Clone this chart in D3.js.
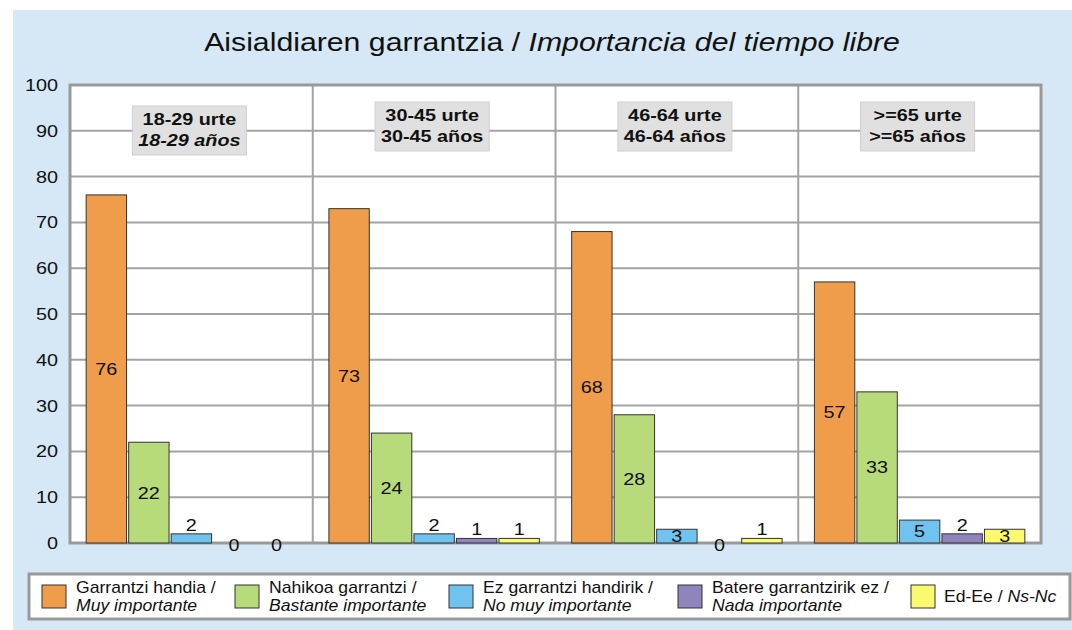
<!DOCTYPE html>
<html>
<head>
<meta charset="utf-8">
<script src="https://cdn.jsdelivr.net/npm/d3@7"></script>
<style>
  body { margin: 0; background: #fff; }
  svg { font-family: "Liberation Sans", Arial, sans-serif; }
</style>
</head>
<body>
<svg width="1072" height="630"></svg>
<script>
// age groups (two lines each: basque / spanish)
var groupsEu = ["18-29 urte", "30-45 urte", "46-64 urte", ">=65 urte"];
var groupsEs = ["18-29 años", "30-45 años", "46-64 años", ">=65 años"];

// answer categories
var seriesEu = ["Garrantzi handia /", "Nahikoa garrantzi /", "Ez garrantzi handirik /", "Batere garrantzirik ez /", "Ed-Ee / "];
var seriesEs = ["Muy importante", "Bastante importante", "No muy importante", "Nada importante", "Ns-Nc"];
var seriesColors = ["#ef9d4a", "#b7da7b", "#70c2ef", "#8f84bc", "#fbfa6e"];

// values per group, in series order
var values = [
  [76, 22, 2, 0, 0],
  [73, 24, 2, 1, 1],
  [68, 28, 3, 0, 1],
  [57, 33, 5, 2, 3]
];

var yTicks = [0, 10, 20, 30, 40, 50, 60, 70, 80, 90, 100];

//the original text is drawn a bit wider than the font, so stretch it
var textStretch = 1.2,
  legendStretch = 1.1;

function place(x, y, sx) {
  return "translate(" + x + "," + y + ") scale(" + sx + ",1)";
}

var svg = d3.select("svg");

//light blue panel
svg.append("rect")
  .attr("x", 13).attr("y", 10)
  .attr("width", 1059).attr("height", 620)
  .attr("fill", "#d6e8f5");

var plot = { left: 70, right: 1041, top: 85, bottom: 543 };

var x0 = d3.scaleBand()
  .domain(d3.range(groupsEu.length))
  .range([plot.left, plot.right]);

var x1 = d3.scaleBand()
  .domain(d3.range(seriesEu.length))
  .range([0, x0.bandwidth()])
  .paddingInner(0.05)
  .paddingOuter(0.38);

var y = d3.scaleLinear()
  .domain([0, 100])
  .range([plot.bottom, plot.top]);

//plot background
svg.append("rect")
  .attr("x", plot.left).attr("y", plot.top)
  .attr("width", plot.right - plot.left).attr("height", plot.bottom - plot.top)
  .attr("fill", "#fff");

//horizontal gridlines
svg.append("g")
  .selectAll("line")
  .data(yTicks.slice(1, -1))
  .join("line")
  .attr("x1", plot.left).attr("x2", plot.right)
  .attr("y1", d => y(d)).attr("y2", d => y(d))
  .attr("stroke", "#a3a3a3")
  .attr("stroke-width", 2);

//group separators
svg.append("g")
  .selectAll("line")
  .data(d3.range(1, groupsEu.length))
  .join("line")
  .attr("x1", d => x0(d)).attr("x2", d => x0(d))
  .attr("y1", plot.top).attr("y2", plot.bottom)
  .attr("stroke", "#a3a3a3")
  .attr("stroke-width", 2);

//frame
svg.append("rect")
  .attr("x", plot.left).attr("y", plot.top)
  .attr("width", plot.right - plot.left).attr("height", plot.bottom - plot.top)
  .attr("fill", "none")
  .attr("stroke", "#999")
  .attr("stroke-width", 3);

//y axis labels
svg.append("g")
  .selectAll("text")
  .data(yTicks)
  .join("text")
  .attr("transform", d => place(58, y(d), textStretch))
  .attr("dy", "0.36em")
  .attr("text-anchor", "end")
  .attr("font-size", 16.5)
  .attr("fill", "#111")
  .text(d => d);

//group label boxes
var boxes = svg.append("g")
  .selectAll("g")
  .data(groupsEu)
  .join("g")
  .attr("transform", (d, i) => "translate(" + (x0(i) + x0.bandwidth() / 2 - 2) + "," + (i === 0 ? 106 : 102) + ")");

boxes.append("rect")
  .attr("x", -57).attr("y", 0)
  .attr("width", 114).attr("height", 49)
  .attr("fill", "#e0e0e0")
  .attr("stroke", "#cfcfcf");

boxes.append("text")
  .attr("transform", place(0, 19, textStretch))
  .attr("text-anchor", "middle")
  .attr("font-size", 16.5)
  .attr("font-weight", "bold")
  .attr("fill", "#111")
  .text(d => d);

boxes.append("text")
  .attr("transform", place(0, 40, textStretch))
  .attr("text-anchor", "middle")
  .attr("font-size", 16.5)
  .attr("font-weight", "bold")
  .attr("font-style", (d, i) => i === 0 ? "italic" : "normal")
  .attr("fill", "#111")
  .text((d, i) => groupsEs[i]);

//bars
var groups = svg.append("g")
  .selectAll("g")
  .data(values)
  .join("g")
  .attr("transform", (d, i) => "translate(" + x0(i) + ",0)");

groups.selectAll("rect")
  .data(d => d)
  .join("rect")
  .attr("x", (d, j) => x1(j))
  .attr("y", d => y(d))
  .attr("width", x1.bandwidth())
  .attr("height", d => y(0) - y(d))
  .attr("fill", (d, j) => seriesColors[j])
  .attr("stroke", d => d > 0 ? "#333" : "none")
  .attr("stroke-width", 1);

//value labels: inside for bigger bars, above for small ones
groups.selectAll("text")
  .data(d => d)
  .join("text")
  .attr("transform", function(d, j) {
    var ly;
    if (d === 0) ly = y(0) + 2;
    else if (d < 3) ly = y(d) - 9;
    else ly = y(d / 2);
    return place(x1(j) + x1.bandwidth() / 2, ly, textStretch);
  })
  .attr("dy", "0.36em")
  .attr("text-anchor", "middle")
  .attr("font-size", 16.5)
  .attr("fill", "#111")
  .text(d => d);

//title
var title = svg.append("text")
  .attr("transform", place(552, 51, 1.21))
  .attr("text-anchor", "middle")
  .attr("font-size", 25)
  .attr("fill", "#111");
title.append("tspan").text("Aisialdiaren garrantzia / ");
title.append("tspan").attr("font-style", "italic").text("Importancia del tiempo libre");

//legend
svg.append("rect")
  .attr("x", 29).attr("y", 574)
  .attr("width", 1041).attr("height", 45)
  .attr("fill", "#fff")
  .attr("stroke", "#999")
  .attr("stroke-width", 3);

var legendX = [42, 235, 449, 678, 911];

var legendItems = svg.append("g")
  .selectAll("g")
  .data(seriesEu)
  .join("g")
  .attr("transform", (d, i) => "translate(" + legendX[i] + ",585)");

legendItems.append("rect")
  .attr("width", 24).attr("height", 23)
  .attr("fill", (d, i) => seriesColors[i])
  .attr("stroke", "#333");

legendItems.each(function(d, i) {
  var item = d3.select(this);
  if (i === 4) {
    var t = item.append("text")
      .attr("transform", place(33, 17, legendStretch))
      .attr("font-size", 16)
      .attr("fill", "#111");
    t.append("tspan").text(d);
    t.append("tspan").attr("font-style", "italic").text(seriesEs[i]);
  } else {
    item.append("text")
      .attr("transform", place(34, 8, legendStretch))
      .attr("font-size", 16)
      .attr("fill", "#111")
      .text(d);
    item.append("text")
      .attr("transform", place(34, 26, legendStretch))
      .attr("font-size", 16)
      .attr("font-style", "italic")
      .attr("fill", "#111")
      .text(seriesEs[i]);
  }
});
</script>
</body>
</html>
